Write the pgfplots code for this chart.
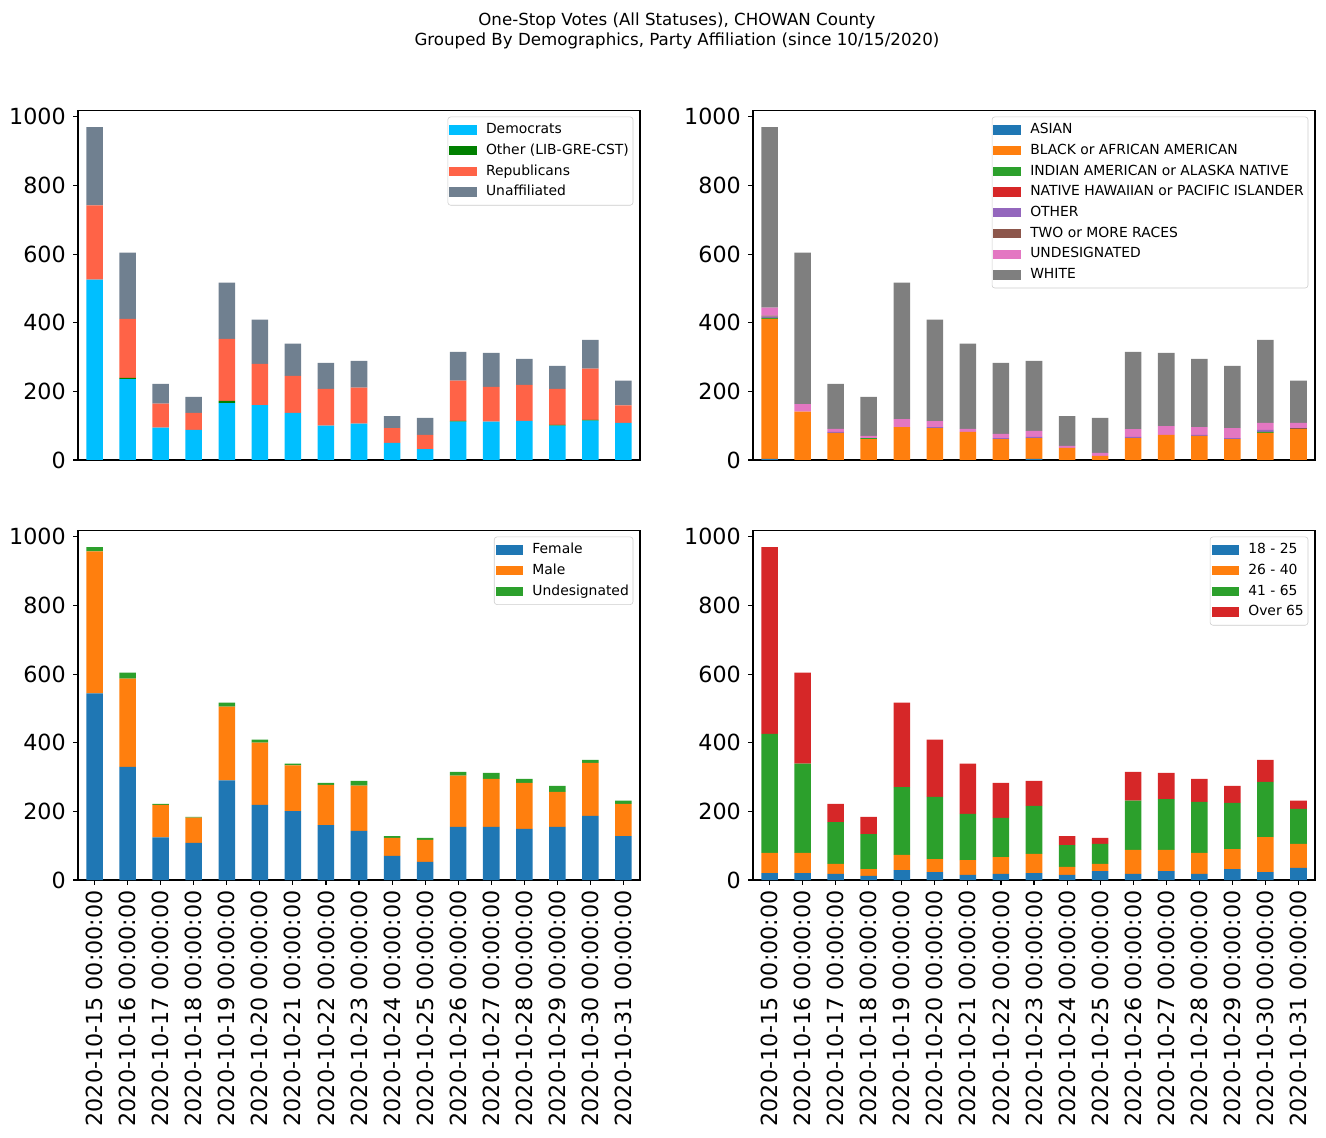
\documentclass[border=0pt]{standalone}
\usepackage{pgfplots}
\usepackage{pgfplotstable}
\pgfplotsset{compat=1.18}
\usepackage{fontspec}
\setmainfont{DejaVu Sans}

\definecolor{dsb}{RGB}{0,191,255}
\definecolor{grn}{RGB}{0,128,0}
\definecolor{tom}{RGB}{255,99,71}
\definecolor{slg}{RGB}{112,128,144}
\definecolor{t1}{RGB}{31,119,180}
\definecolor{t2}{RGB}{255,127,14}
\definecolor{t3}{RGB}{44,160,44}
\definecolor{t4}{RGB}{214,39,40}
\definecolor{t5}{RGB}{148,103,189}
\definecolor{t6}{RGB}{140,86,75}
\definecolor{t7}{RGB}{227,119,194}
\definecolor{t8}{RGB}{127,127,127}
\definecolor{legframe}{RGB}{204,204,204}

\pgfplotstableread{
x Dem Oth Rep Una
0 526 0 216 228
1 236 3 172 193
2 94 0 70 58
3 88 0 49 47
4 166 6 181 164
5 160 0 120 129
6 137 0 108 94
7 100 0 107 76
8 106 0 105 78
9 50 0 43 35
10 32 0 41 50
11 112 2 117 84
12 112 0 101 99
13 114 0 105 76
14 100 2 105 67
15 115 2 149 84
16 108 0 51 72
}\party

\pgfplotstableread{
x Asian Black Indian NH Other Two Und White
0 3 408 3 0 4 3 23 526
1 0 141 0 0 0 0 22 441
2 0 79 0 0 3 0 9 131
3 0 61 3 0 0 0 6 114
4 0 96 0 0 0 0 23 398
5 0 93 0 0 3 0 17 296
6 0 82 0 0 0 0 9 248
7 0 61 0 0 3 0 12 207
8 3 61 0 0 3 0 18 204
9 0 35 0 0 0 0 6 87
10 0 12 0 0 0 0 9 102
11 0 64 0 0 3 0 23 225
12 0 73 0 0 0 0 26 213
13 0 70 0 0 3 0 23 199
14 0 61 0 0 3 0 29 181
15 0 79 3 0 6 0 20 242
16 0 90 0 0 0 3 15 123
}\race

\pgfplotstableread{
x F M U
0 544 414 12
1 330 257 17
2 124 95 3
3 108 74 2
4 290 215 12
5 219 181 9
6 201 133 5
7 160 117 6
8 143 132 14
9 70 53 5
10 53 64 6
11 155 149 11
12 155 140 17
13 149 134 12
14 155 102 17
15 187 154 9
16 128 94 9
}\gender

\pgfplotstableread{
x A B C D
0 20 59 347 544
1 20 59 260 265
2 18 29 122 53
3 12 20 102 50
4 29 44 198 246
5 23 38 181 167
6 15 43 135 146
7 18 49 114 102
8 20 56 140 73
9 15 23 64 26
10 26 21 58 18
11 18 70 143 84
12 26 62 148 76
13 18 61 149 67
14 32 58 135 49
15 23 102 161 64
16 35 70 102 24
}\age

\pgfplotsset{
  panel/.style={
    scale only axis, width=404.64pt, height=251.5pt,
    anchor=south west,
    xmin=-0.5, xmax=16.5, ymin=0, ymax=1018,
    ybar stacked, bar width=0.5,
    ytick={0,200,400,600,800,1000},
    ytick pos=left, xtick pos=bottom,
    tick align=outside, major tick length=3.5pt,
    every tick/.style={black, line width=0.8pt},
    axis line style={line width=0.8pt},
    tick label style={font=\fontsize{16}{19}\selectfont},
    /pgf/number format/assume math mode=true,
    /pgf/number format/1000 sep={},
    yticklabel style={inner sep=0pt, anchor=east, xshift=-5.1pt},
    legend cell align=left,
    legend style={at={(0.988,0.983)}, anchor=north east,
      draw=legframe, rounded corners=2pt, fill=white, fill opacity=0.8, text opacity=1,
      font=\fontsize{10}{12}\selectfont, inner xsep=1pt, inner ysep=2pt,
      column sep=4.5pt,
      nodes={inner xsep=2pt, inner ysep=2.55pt, text height=7.6pt, text depth=2.2pt}},
    legend image code/.code={\fill[##1, fill opacity=1, sharp corners] (0pt,-3.35pt) rectangle (20pt,3.35pt);},
  },
  toppanel/.style={panel, xtick=\empty},
  botpanel/.style={panel, xtick={0,...,16},
    xticklabels={2020-10-15 00:00:00,2020-10-16 00:00:00,2020-10-17 00:00:00,2020-10-18 00:00:00,2020-10-19 00:00:00,2020-10-20 00:00:00,2020-10-21 00:00:00,2020-10-22 00:00:00,2020-10-23 00:00:00,2020-10-24 00:00:00,2020-10-25 00:00:00,2020-10-26 00:00:00,2020-10-27 00:00:00,2020-10-28 00:00:00,2020-10-29 00:00:00,2020-10-30 00:00:00,2020-10-31 00:00:00},
    xticklabel style={inner sep=0pt, yshift=-3.7pt, rotate=90, anchor=east}},
}

\begin{document}
\begin{tikzpicture}
\useasboundingbox (0,0) rectangle (954.72pt,818.64pt);
\node[anchor=base, font=\fontsize{12}{14}\selectfont, inner sep=0pt] at (487.4pt,800.6pt) {One-Stop Votes (All Statuses), CHOWAN County};
\node[anchor=base, font=\fontsize{12}{14}\selectfont, inner sep=0pt] at (487.4pt,786.2pt) {Grouped By Demographics, Party Affiliation (since 10/15/2020)};

% top-left: party
\begin{axis}[toppanel, at={(56.16pt,487.44pt)}]
\addplot[fill=dsb, draw=none] table[x=x,y=Dem]{\party};
\addplot[fill=grn, draw=none] table[x=x,y=Oth]{\party};
\addplot[fill=tom, draw=none] table[x=x,y=Rep]{\party};
\addplot[fill=slg, draw=none] table[x=x,y=Una]{\party};
\legend{Democrats,Other (LIB-GRE-CST),Republicans,Unaffiliated}
\end{axis}

% top-right: race
\begin{axis}[toppanel, at={(542.16pt,487.44pt)}]
\addplot[fill=t1, draw=none] table[x=x,y=Asian]{\race};
\addplot[fill=t2, draw=none] table[x=x,y=Black]{\race};
\addplot[fill=t3, draw=none] table[x=x,y=Indian]{\race};
\addplot[fill=t4, draw=none] table[x=x,y=NH]{\race};
\addplot[fill=t5, draw=none] table[x=x,y=Other]{\race};
\addplot[fill=t6, draw=none] table[x=x,y=Two]{\race};
\addplot[fill=t7, draw=none] table[x=x,y=Und]{\race};
\addplot[fill=t8, draw=none] table[x=x,y=White]{\race};
\legend{ASIAN,BLACK or AFRICAN AMERICAN,INDIAN AMERICAN or ALASKA NATIVE,NATIVE HAWAIIAN or PACIFIC ISLANDER,OTHER,TWO or MORE RACES,UNDESIGNATED,WHITE}
\end{axis}

% bottom-left: gender
\begin{axis}[botpanel, at={(56.16pt,185.04pt)}]
\addplot[fill=t1, draw=none] table[x=x,y=F]{\gender};
\addplot[fill=t2, draw=none] table[x=x,y=M]{\gender};
\addplot[fill=t3, draw=none] table[x=x,y=U]{\gender};
\legend{Female,Male,Undesignated}
\end{axis}

% bottom-right: age
\begin{axis}[botpanel, at={(542.16pt,185.04pt)}]
\addplot[fill=t1, draw=none] table[x=x,y=A]{\age};
\addplot[fill=t2, draw=none] table[x=x,y=B]{\age};
\addplot[fill=t3, draw=none] table[x=x,y=C]{\age};
\addplot[fill=t4, draw=none] table[x=x,y=D]{\age};
\legend{18 - 25,26 - 40,41 - 65,Over 65}
\end{axis}
\end{tikzpicture}
\end{document}
